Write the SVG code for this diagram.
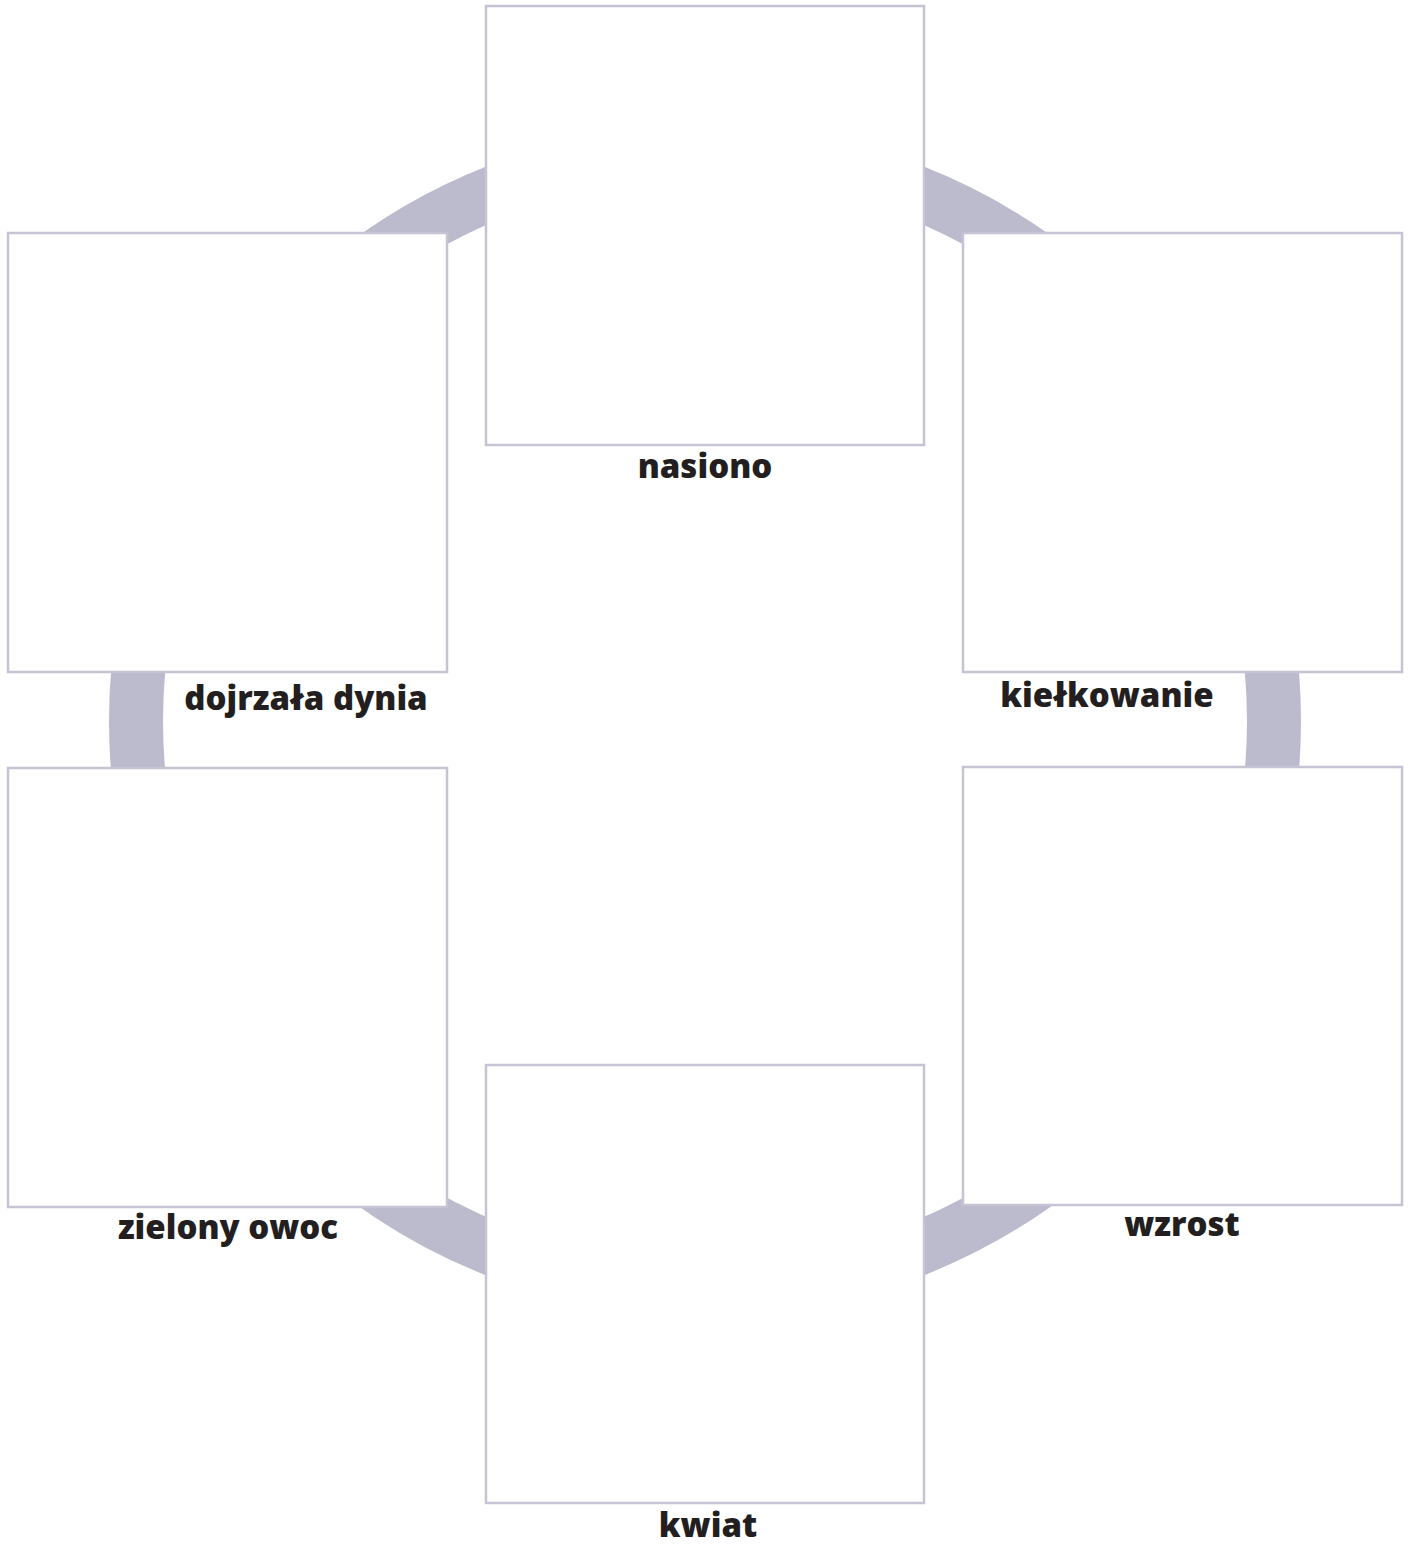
<svg xmlns="http://www.w3.org/2000/svg" width="1412" height="1546" viewBox="0 0 1412 1546">
<style>
.box{fill:#ffffff;stroke:#c6c4d4;stroke-width:2.5}
.lbl{font-family:"Open Sans","Liberation Sans",sans-serif;font-weight:800;font-size:33px;fill:#231f20;text-anchor:middle}
</style>
<rect width="1412" height="1546" fill="#ffffff"/>
<g id="connectors">
<circle cx="705" cy="721" r="569" fill="none" stroke="#bcbacd" stroke-width="54"/>
</g>
<g id="nasiono"><rect class="box" x="486" y="6" width="438" height="439"/><text class="lbl" x="705" y="478">nasiono</text></g>
<g id="kielkowanie"><rect class="box" x="963" y="233" width="439" height="439"/><text class="lbl" x="1107" y="707">kiełkowanie</text></g>
<g id="wzrost"><rect class="box" x="963" y="767" width="439" height="438"/><text class="lbl" x="1182" y="1236">wzrost</text></g>
<g id="kwiat"><rect class="box" x="486" y="1065" width="438" height="438"/><text class="lbl" x="708" y="1537">kwiat</text></g>
<g id="zielony-owoc"><rect class="box" x="8" y="768" width="439" height="439"/><text class="lbl" x="228" y="1239">zielony owoc</text></g>
<g id="dojrzala-dynia"><rect class="box" x="8" y="233" width="439" height="439"/><text class="lbl" x="306" y="710">dojrzała dynia</text></g>
</svg>
